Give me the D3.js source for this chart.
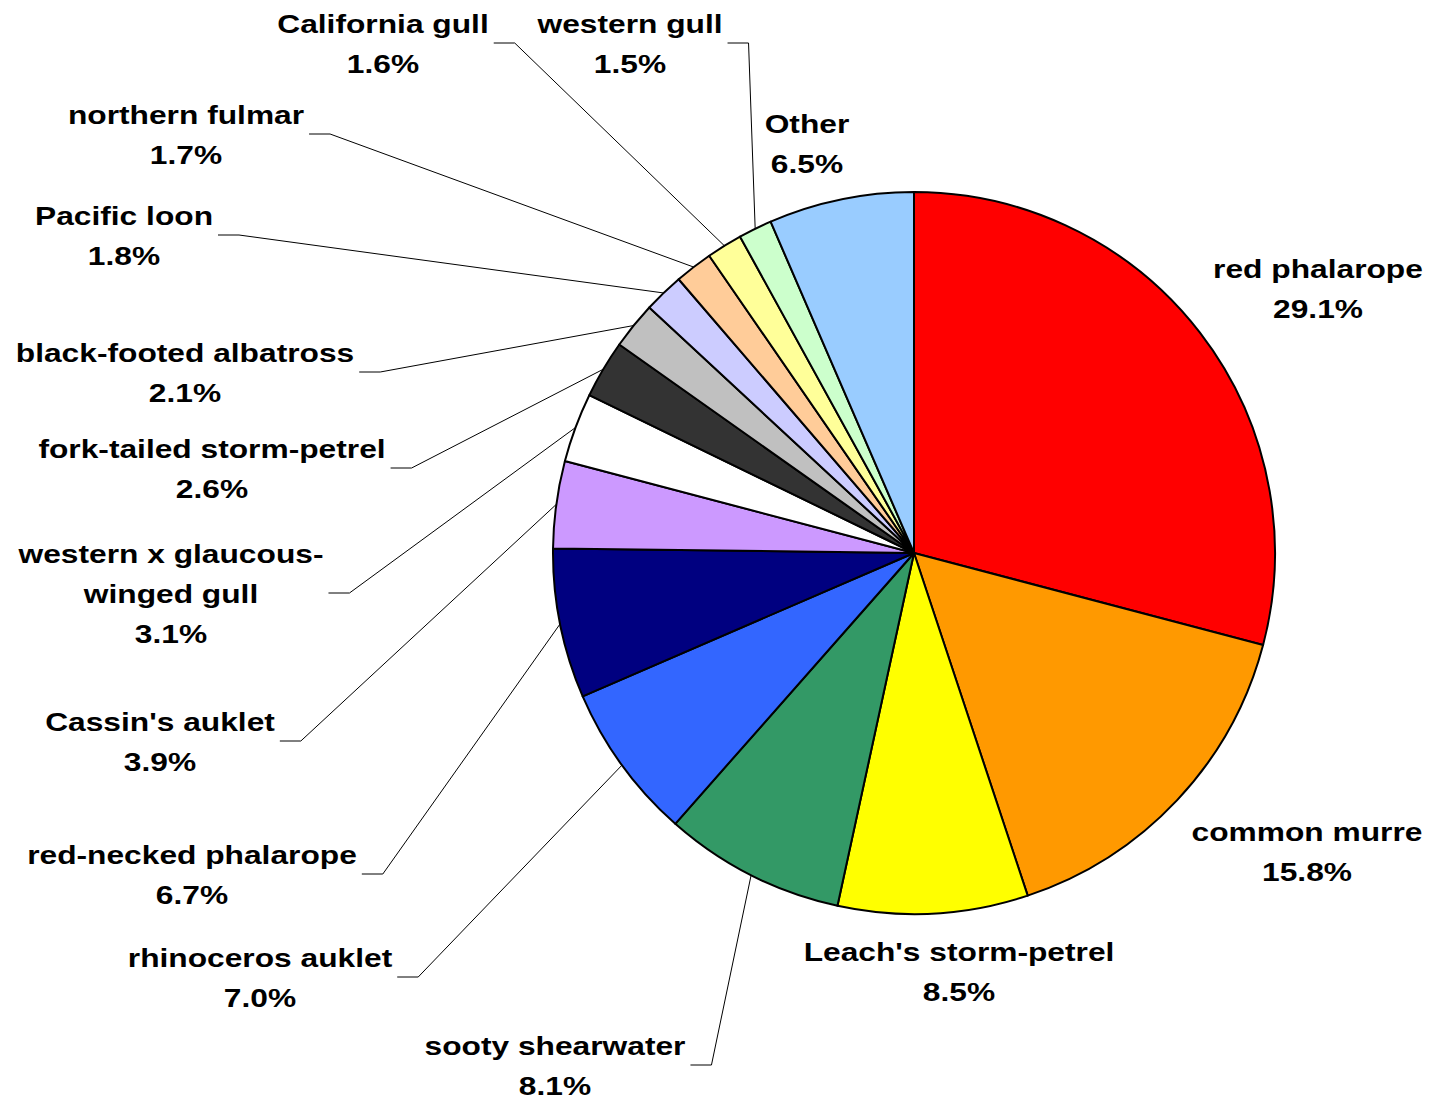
<!DOCTYPE html>
<html>
<head>
<meta charset="utf-8">
<script src="https://cdn.jsdelivr.net/npm/d3@7/dist/d3.min.js"></script>
<style>
  body { margin: 0; background: #fff; }
  text { font-family: "Liberation Sans", Arial, sans-serif; font-weight: bold; font-size: 26px; fill: #000; }
</style>
</head>
<body>
<script>
// species, share of total (%) and slice colour, clockwise from 12 o'clock
const species = [
    'red phalarope', 'common murre', "Leach's storm-petrel", 'sooty shearwater',
    'rhinoceros auklet', 'red-necked phalarope', "Cassin's auklet",
    'western x glaucous-winged gull', 'fork-tailed storm-petrel',
    'black-footed albatross', 'Pacific loon', 'northern fulmar',
    'California gull', 'western gull', 'Other'
]
const shares = [29.1, 15.8, 8.5, 8.1, 7.0, 6.7, 3.9, 3.1, 2.6, 2.1, 1.8, 1.7, 1.6, 1.5, 6.5]
const colors = [
    '#FF0000', '#FF9900', '#FFFF00', '#339966', '#3366FF', '#000080', '#CC99FF',
    '#FFFFFF', '#333333', '#C0C0C0', '#CCCCFF', '#FFCC99', '#FFFF99', '#CCFFCC', '#99CCFF'
]

// label block centres and whether a leader line is drawn
const labelPos = [
    [1318, 288], [1307, 851], [959, 971], [555, 1065], [260, 977], [192, 874],
    [160, 741], [171, 593], [212, 468], [185, 372], [124, 235], [186, 134],
    [383, 43], [630, 43], [807, 143]
]
const leader = [false, false, false, true, true, true, true, true, true, true, true, true, true, true, false]
const wrapped = {'western x glaucous-winged gull': ['western x glaucous-', 'winged gull']}

let width, height, cx, cy, radius, lineGap, stretch;
width = 1431;
height = 1101;
cx = 914;
cy = 553;
radius = 361;
lineGap = 40;
stretch = 1.22;

const svg = d3.select('body')
                .append('svg')
                .attr('width', width)
                .attr('height', height)

const pie = d3.pie().sort(null).value(d => d)
const arcs = pie(shares)
const arc = d3.arc().innerRadius(0).outerRadius(radius)
const edge = d3.arc().innerRadius(radius).outerRadius(radius)

const g = svg.append('g').attr('transform', `translate(${cx},${cy})`)

g.selectAll('path')
    .data(arcs)
    .enter()
    .append('path')
    .attr('d', arc)
    .attr('fill', (d, i) => colors[i])
    .attr('stroke', '#000')
    .attr('stroke-width', 2)
    .attr('stroke-linejoin', 'round')

const fmt = d3.format('.1f')

species.forEach((name, i) => {
    const lines = (wrapped[name] || [name]).concat([fmt(shares[i]) + '%'])
    const [lx, ly] = labelPos[i]
    let maxW = 0
    lines.forEach((t, k) => {
        const y = ly + (k - (lines.length - 1) / 2) * lineGap + 10
        const txt = svg.append('text')
            .attr('text-anchor', 'middle')
            .attr('transform', `translate(${lx},${y}) scale(${stretch},1)`)
            .text(t)
        maxW = Math.max(maxW, txt.node().getComputedTextLength() * stretch)
    })
    if (leader[i]) {
        const x0 = lx + maxW / 2 + 5
        const [px, py] = edge.centroid(arcs[i])
        svg.append('polyline')
            .attr('points', [[x0, ly], [x0 + 21, ly], [cx + px, cy + py]].join(' '))
            .attr('fill', 'none')
            .attr('stroke', '#000')
            .attr('stroke-width', 1)
    }
})
</script>
</body>
</html>
